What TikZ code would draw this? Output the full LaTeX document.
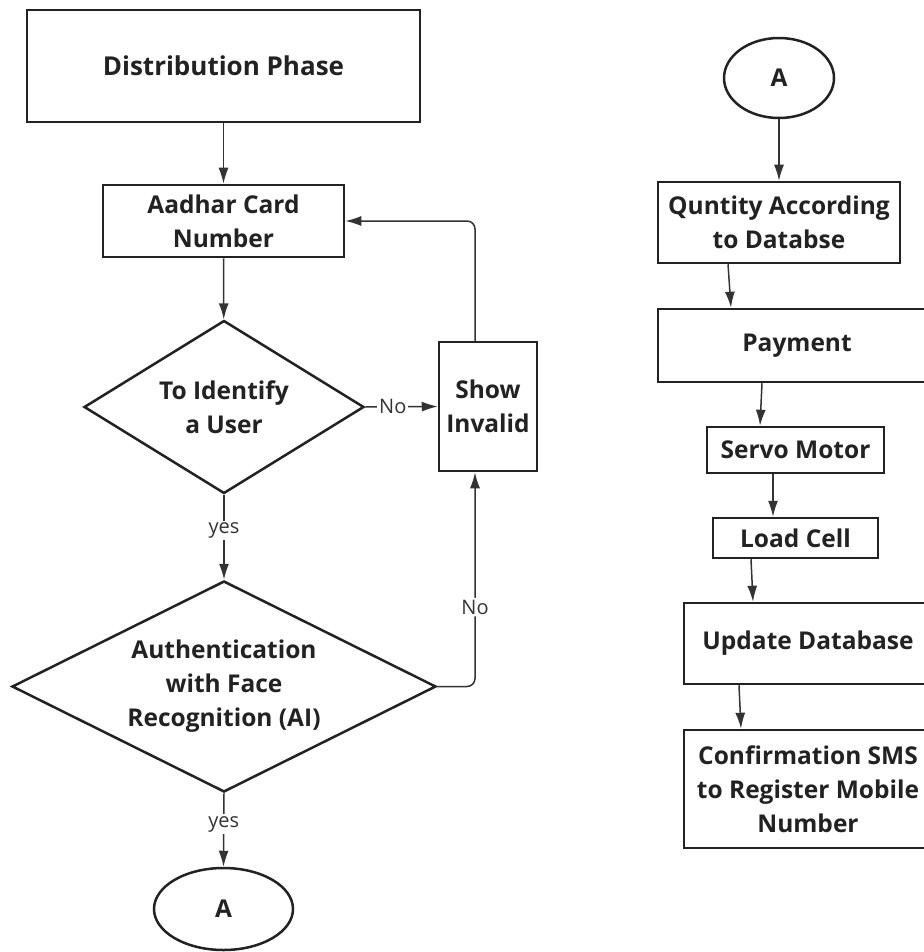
\documentclass[tikz,border=0pt]{standalone}
\usepackage{fontspec}
\setmainfont{Open Sans}
\usetikzlibrary{shapes.geometric,arrows.meta,calc}
\definecolor{boxc}{HTML}{222222}
\definecolor{linec}{HTML}{333333}
\definecolor{labc}{HTML}{333333}
\begin{document}
\begin{tikzpicture}[x=1pt,y=-1pt,
  every node/.style={font=\fontsize{24.5}{34}\selectfont\bfseries, text=boxc, align=center},
  procbox/.style={draw=boxc, line width=2.5pt, rectangle, inner sep=0pt, fill=white},
  decbox/.style={draw=boxc, line width=2.5pt, diamond, inner sep=0pt, fill=white},
  conbox/.style={draw=boxc, line width=2.5pt, ellipse, inner sep=0pt, fill=white},
  conn/.style={draw=linec, line width=1.5pt, -{Latex[length=16pt,width=10pt]}},
  lab/.style={font=\fontsize{20}{22}\selectfont, text=labc, fill=white, inner sep=2pt}
]
\useasboundingbox[fill=white] (0,0) rectangle (923,952);
% left column
\node[procbox, minimum width=393pt, minimum height=112pt, font=\fontsize{26}{34}\selectfont\bfseries] (dist) at (223.5,66) {Distribution Phase};
\node[procbox, minimum width=241pt, minimum height=72pt] (aadhar) at (223.5,221) {Aadhar Card\\Number};
\node[decbox, aspect=2.2, minimum width=280pt, minimum height=173pt] (d1) at (224,407) {To Identify\\a User};
\node[decbox, aspect=2.4, minimum width=424pt, minimum height=211pt] (d2) at (224,686.5) {Authentication\\with Face\\Recognition (AI)};
\node[procbox, minimum width=98pt, minimum height=129pt] (invalid) at (488,406.5) {Show\\Invalid};
\node[conbox, minimum width=139pt, minimum height=82pt] (A1) at (223.5,909) {A};
% right column
\node[conbox, minimum width=110pt, minimum height=80pt] (A2) at (779,78) {A};
\node[procbox, minimum width=242pt, minimum height=81pt] (qty) at (779,222.5) {Quntity According\\to Databse};
\node[procbox, minimum width=278pt, minimum height=73pt] (pay) at (797,345.5) {Payment};
\node[procbox, minimum width=177pt, minimum height=46pt] (servo) at (795.5,450) {Servo Motor};
\node[procbox, minimum width=165pt, minimum height=40pt] (load) at (795.5,538) {Load Cell};
\node[procbox, minimum width=248pt, minimum height=81pt] (upd) at (808,643.5) {Update Database};
\node[procbox, minimum width=248pt, minimum height=118pt] (conf) at (808,789) {Confirmation SMS\\to Register Mobile\\Number};
% left connectors
\draw[conn] (dist) -- (aadhar);
\draw[conn] (aadhar) -- (d1);
\draw[conn] (d1.south) -- node[lab, pos=0.42] {yes} (d2.north);
\draw[conn] (d2.south) -- node[lab, pos=0.42] {yes} (A1.north);
\draw[conn] (d1.east) -- node[lab, pos=0.38] {No} (invalid.west);
\draw[conn, rounded corners=8pt] (d2.east) -| node[lab, pos=0.685] {No} ([xshift=-13pt]invalid.south);
\draw[conn, rounded corners=8pt] ([xshift=-13pt]invalid.north) |- (aadhar.east);
% right connectors
\draw[conn] (A2) -- (qty);
\draw[conn] ([xshift=-51pt]qty.south) -- ([xshift=-66pt]pay.north);
\draw[conn] ([xshift=-35pt]pay.south) -- ([xshift=-35.5pt]servo.north);
\draw[conn] ([xshift=-22.5pt]servo.south) -- ([xshift=-22.5pt]load.north);
\draw[conn] ([xshift=-44.5pt]load.south) -- ([xshift=-55pt]upd.north);
\draw[conn] ([xshift=-69pt]upd.south) -- ([xshift=-67pt]conf.north);
\end{tikzpicture}
\end{document}
